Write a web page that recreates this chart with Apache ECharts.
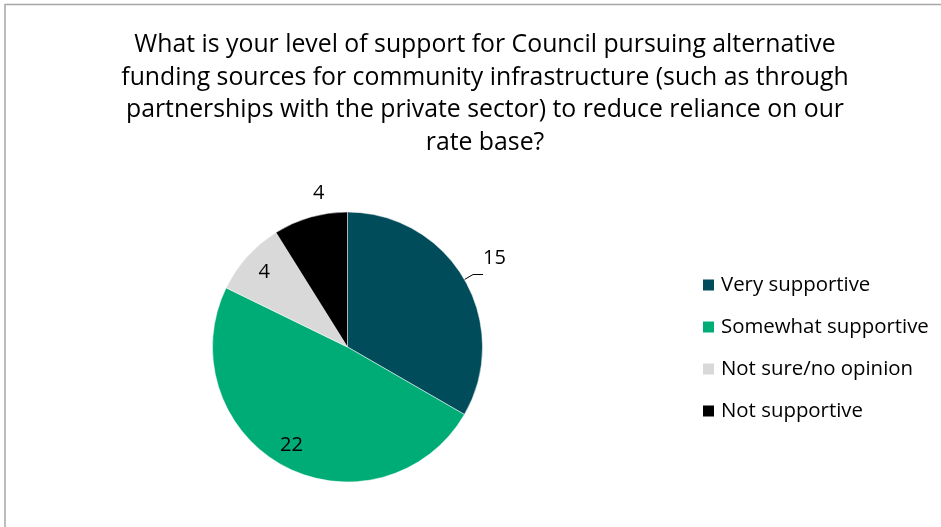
<!DOCTYPE html>
<html>
<head>
<meta charset="utf-8">
<script src="https://cdn.jsdelivr.net/npm/echarts@6/dist/echarts.min.js"></script>
<style>
  html, body { margin: 0; padding: 0; background: #fff; }
  #chart { width: 941px; height: 527px; }
</style>
</head>
<body>
<div id="chart"></div>
<script>
// Survey responses
const categories = ['Very supportive', 'Somewhat supportive', 'Not sure/no opinion', 'Not supportive'];
const counts = [15, 22, 4, 4];
const colors = ['#004C5A', '#00AC76', '#D9D9D9', '#000000'];
const titleText = 'What is your level of support for Council pursuing alternative\nfunding sources for community infrastructure (such as through\npartnerships with the private sector) to reduce reliance on our\nrate base?';

const FONT = '"Open Sans", Lato, sans-serif';

// Per-slice label placement: outside labels (with or without leader) and inside labels nudged outward
const labelPlacement = [
  { position: 'outside', line: true,  dx: -5,  dy: -16 },
  { position: 'inside',  line: false, dx: -23, dy: 36 },
  { position: 'inside',  line: false, dx: -31, dy: -28 },
  { position: 'outside', line: false, dx: 32,  dy: -14 }
];

const pieData = categories.map((name, i) => ({
  name: name,
  value: counts[i],
  itemStyle: { color: colors[i] },
  label: { position: labelPlacement[i].position },
  labelLine: { show: labelPlacement[i].line }
}));

const chart = echarts.init(document.getElementById('chart'), null, { renderer: 'canvas' });
chart.setOption({
  animation: false,
  backgroundColor: '#ffffff',
  graphic: [{
    type: 'rect',
    shape: { x: 5, y: 4.5, width: 1000, height: 1000 },
    style: { fill: 'none', stroke: '#a6a6a6', lineWidth: 1.5 },
    silent: true
  }],
  title: {
    text: titleText,
    left: 480,
    top: 24,
    textAlign: 'center',
    textStyle: {
      fontFamily: FONT,
      fontSize: 24.8,
      fontWeight: 'normal',
      color: '#000000',
      lineHeight: 32.5
    }
  },
  legend: {
    orient: 'vertical',
    left: 701,
    top: 275,
    padding: 0,
    itemWidth: 13,
    itemHeight: 13,
    itemGap: 22,
    icon: 'rect',
    data: categories,
    textStyle: { fontFamily: FONT, fontSize: 20.4, color: '#000000', padding: [0, 0, 0, 1] }
  },
  series: [{
    type: 'pie',
    center: [347.5, 347],
    radius: [0, 135],
    startAngle: 90,
    clockwise: true,
    avoidLabelOverlap: false,
    data: pieData,
    itemStyle: { borderColor: '#ffffff', borderWidth: 0.5 },
    label: {
      show: true,
      formatter: '{c}',
      fontFamily: FONT,
      fontSize: 20,
      color: '#000000'
    },
    labelLine: {
      show: true,
      length: 10,
      length2: 10,
      lineStyle: { color: '#000000', width: 1 }
    },
    labelLayout: function (params) {
      const p = labelPlacement[params.dataIndex];
      return { dx: p.dx, dy: p.dy };
    }
  }]
});
</script>
</body>
</html>
